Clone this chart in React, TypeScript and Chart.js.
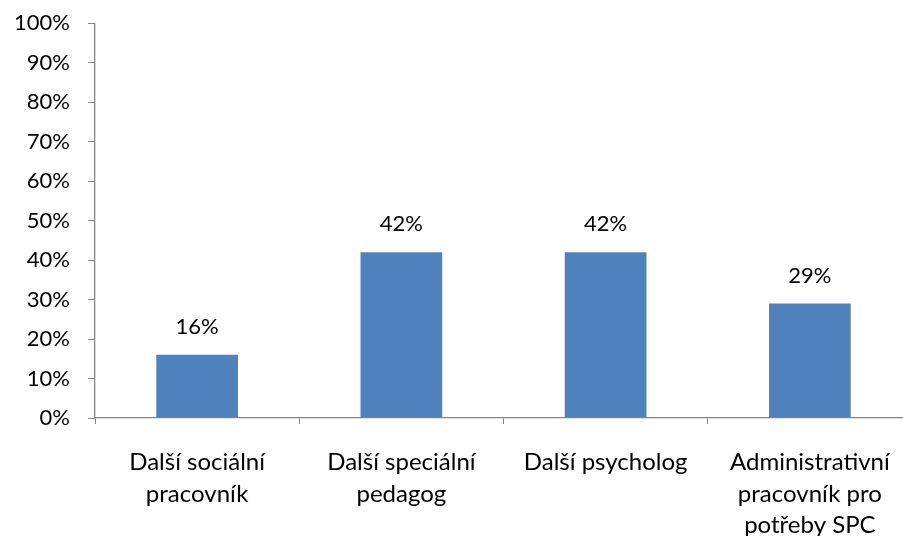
import React, { useEffect, useRef } from "react";
import { Chart, registerables } from "chart.js";

Chart.register(...registerables);

const categories: string[][] = [
  ["Další sociální", "pracovník"],
  ["Další speciální", "pedagog"],
  ["Další psycholog"],
  ["Administrativní", "pracovník pro", "potřeby SPC"],
];
const values: number[] = [16, 42, 42, 29];
const yTicks: number[] = [0, 10, 20, 30, 40, 50, 60, 70, 80, 90, 100];

const FONT = "Lato, 'Noto Sans', sans-serif";
const AXIS = "#868686";

const labelPlugin = {
  id: "barLabels",
  afterDatasetsDraw(chart: any) {
    const ctx = chart.ctx;
    const meta = chart.getDatasetMeta(0);
    ctx.save();
    ctx.font = `22px ${FONT}`;
    ctx.fillStyle = "#000";
    ctx.textAlign = "center";
    ctx.textBaseline = "middle";
    meta.data.forEach((el: any, i: number) => {
      ctx.fillText(values[i] + "%", el.x, el.y - 28);
    });
    ctx.restore();
  },
};

export default function App() {
  const ref = useRef<HTMLCanvasElement | null>(null);
  useEffect(() => {
    if (!ref.current) return;
    const chart = new Chart(ref.current, {
      type: "bar",
      data: {
        labels: categories,
        datasets: [
          {
            data: values,
            backgroundColor: "#4F81BD",
            barPercentage: 0.4,
            categoryPercentage: 1,
          },
        ],
      },
      options: {
        responsive: false,
        animation: false,
        layout: { padding: { top: 12, right: 8, left: 0, bottom: 0 } },
        plugins: { legend: { display: false }, tooltip: { enabled: false } },
        scales: {
          x: {
            offset: true,
            grid: {
              offset: true,
              drawOnChartArea: false,
              tickLength: 6,
              color: AXIS,
              lineWidth: 1,
            },
            border: { color: AXIS, width: 1.3 },
            ticks: {
              color: "#000",
              font: { family: FONT, size: 24, lineHeight: 1.3 },
              padding: 23,
              maxRotation: 0,
              autoSkip: false,
            },
            afterFit: (s: any) => {
              s.height = 118;
            },
          },
          y: {
            min: 0,
            max: 100,
            afterBuildTicks: (s: any) => {
              s.ticks = yTicks.map((v) => ({ value: v }));
            },
            grid: {
              drawOnChartArea: false,
              tickLength: 7,
              color: AXIS,
              lineWidth: 1,
            },
            border: { color: AXIS, width: 1.3 },
            ticks: {
              color: "#000",
              font: { family: FONT, size: 22 },
              padding: 18,
              callback: (v: any) => v + "%",
            },
            afterFit: (s: any) => {
              s.width = 95;
            },
          },
        },
      },
      plugins: [labelPlugin],
    });
    return () => chart.destroy();
  }, []);
  return (
    <div
      style={{
        position: "fixed",
        left: 0,
        top: 0,
        width: 903,
        height: 536,
        overflow: "hidden",
        background: "#fff",
      }}
    >
      <canvas
        ref={ref}
        width={920}
        height={544}
        style={{ width: 920, height: 544, display: "block", position: "absolute", left: 0, top: -8 }}
      />
    </div>
  );
}
